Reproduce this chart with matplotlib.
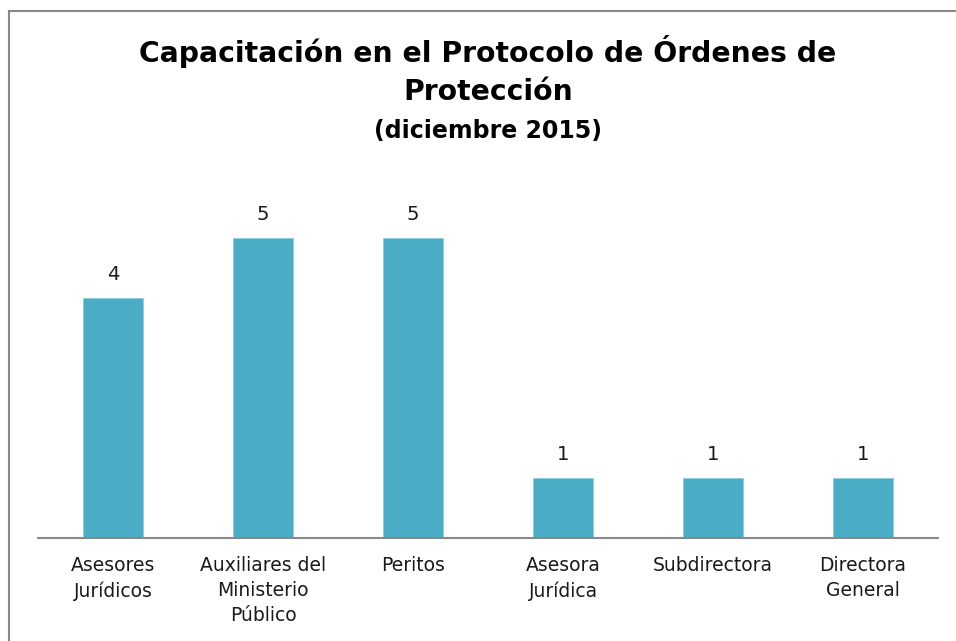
import matplotlib.pyplot as plt
from matplotlib.patches import Rectangle

categorias = ["Asesores\nJurídicos", "Auxiliares del\nMinisterio\nPúblico", "Peritos",
              "Asesora\nJurídica", "Subdirectora", "Directora\nGeneral"]
valores = [4, 5, 5, 1, 1, 1]

W, H = 956, 641
fig = plt.figure(figsize=(W / 100, H / 100), dpi=100)
ax = fig.add_axes([38 / W, (H - 538) / H, 900 / W, 360 / H])

x = range(len(valores))
bars = ax.bar(x, valores, width=0.4, color="#4BACC6", edgecolor="#8FCCDD", linewidth=0.6)
for xi, v in zip(x, valores):
    ax.annotate(str(v), (xi, v), xytext=(0, 10), textcoords="offset points",
                ha="center", va="bottom", fontsize=14, color="#1a1a1a")

ax.set_xlim(-0.5, len(valores) - 0.5)
ax.set_ylim(0, 6)
ax.set_xticks(list(x))
ax.set_xticklabels(categorias, fontsize=13.5, color="#1a1a1a", linespacing=1.4)
ax.tick_params(axis="x", length=0, pad=13)
ax.set_yticks([])
for s in ["top", "right", "left"]:
    ax.spines[s].set_visible(False)
ax.spines["bottom"].set_color("#898989")
ax.spines["bottom"].set_linewidth(1.5)

cx = (38 + 450) / W
fig.text(cx, 1 - 52 / H, "Capacitación en el Protocolo de Órdenes de", ha="center", va="center",
         fontsize=20.3, fontweight="bold")
fig.text(cx, 1 - 92 / H, "Protección", ha="center", va="center", fontsize=20.3, fontweight="bold")
fig.text(cx, 1 - 131 / H, "(diciembre 2015)", ha="center", va="center", fontsize=17, fontweight="bold")

# marco del gráfico
fig.patches.append(Rectangle((9 / W, -0.05), 1.0, 1 - 11 / H + 0.05, transform=fig.transFigure,
                             fill=False, edgecolor="#888888", linewidth=1.5))

fig.savefig("out.png", dpi=100)
